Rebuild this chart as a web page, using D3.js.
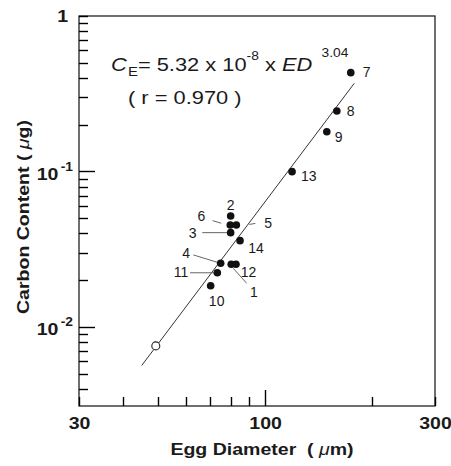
<!DOCTYPE html>
<html>
<head>
<meta charset="utf-8">
<script src="https://cdn.jsdelivr.net/npm/d3@7"></script>
<style>
  body { margin: 0; background: #fff; }
  text { font-family: "Liberation Sans", Arial, Helvetica, sans-serif; fill: #1a1a1a; }
</style>
</head>
<body>
<div class="chart"></div>
<script>
/* data */
const eggIds = [1, 2, 3, 4, 5, 6, 7, 8, 9, 10, 11, 12, 13, 14];
const eggDiameter = [80.3, 80.0, 80.0, 75.0, 83.0, 79.8, 174, 159, 149, 70.3, 73.4, 82.8, 119, 85.0];
const carbonContent = [0.0253, 0.0517, 0.0404, 0.0257, 0.0453, 0.0453, 0.432, 0.245, 0.180, 0.0184, 0.0223, 0.0253, 0.0997, 0.0359];

/* the open circle */
const openDiameter = [49.3];
const openCarbon = [0.00755];

/* fitted curve C = a * ED^b, drawn over this ED range */
const fitA = 5.32e-8;
const fitB = 3.04;
const fitRange = [45, 178];

/* ticks */
const xTicks = [30, 40, 50, 60, 70, 80, 90, 100, 200, 300];
const xLabels = [30, 100, 300];
const yTicks = [1, 0.9, 0.8, 0.7, 0.6, 0.5, 0.4, 0.3, 0.2, 0.1,
  0.09, 0.08, 0.07, 0.06, 0.05, 0.04, 0.03, 0.02, 0.01,
  0.009, 0.008, 0.007, 0.006, 0.005, 0.004];
const yLabels = [1, 0.1, 0.01];

/* label placement: offsets from the point, in pixels */
const labelPos = {
  1: {dx: 18.7, dy: 32.4, anchor: "start", leader: [2, 4, 15.4, 19]},
  2: {dx: 0, dy: -6, anchor: "middle"},
  3: {dx: -34, dy: 5.6, anchor: "end", leader: [-28.4, 0, -2.4, 0]},
  4: {dx: -30.7, dy: -5, anchor: "end", leader: [-27.4, -8.3, -2.4, -0.6]},
  5: {dx: 28, dy: 3, anchor: "start", leader: [13, -0.5, 19, -1.5]},
  6: {dx: -25, dy: -4, anchor: "end", leader: [-17.7, -4.3, -9, -1.7]},
  7: {dx: 12, dy: 4, anchor: "start"},
  8: {dx: 10, dy: 5, anchor: "start"},
  9: {dx: 8, dy: 10, anchor: "start"},
  10: {dx: 6, dy: 20, anchor: "middle"},
  11: {dx: -29, dy: 4.6, anchor: "end", leader: [-27.3, 0, -2.3, 0]},
  12: {dx: 4.7, dy: 12.4, anchor: "start"},
  13: {dx: 9, dy: 9, anchor: "start"},
  14: {dx: 8.3, dy: 12.6, anchor: "start"}
};

/* the lettering in the figure is wide, so text is stretched sideways */
const SX = 1.15;
function widen(sel, sx) {
  sel.each(function () {
    const t = d3.select(this);
    const x = +t.attr("x") || 0;
    t.attr("x", x / sx).attr("transform", `scale(${sx},1)`);
  });
}

const margin = {top: 16, right: 16, bottom: 60, left: 79};
const width = 356;
const height = 390;

const svg = d3.select(".chart").append("svg")
  .attr("width", 451)
  .attr("height", 466);

const g = svg.append("g")
  .attr("transform", `translate(${margin.left},${margin.top})`);

const xScale = d3.scaleLog().domain([30, 300]).range([0, width]);
const yScale = d3.scaleLog().domain([0.0031, 1]).range([height, 0]);

/* frame */
g.append("rect")
  .attr("width", width)
  .attr("height", height)
  .attr("fill", "none")
  .attr("stroke", "#222")
  .attr("stroke-width", 1.3);

/* x axis: labels from the axis, inward ticks drawn from the scale */
const xAxis = d3.axisBottom(xScale)
  .tickValues(xTicks)
  .tickSize(0)
  .tickPadding(11)
  .tickFormat(d => xLabels.includes(d) ? d : "");

const gx = g.append("g")
  .attr("transform", `translate(0,${height})`)
  .call(xAxis)
  .attr("font-size", 17);
gx.select(".domain").remove();
gx.selectAll(".tick line").remove();
gx.selectAll(".tick text").attr("font-weight", "bold");
widen(gx.selectAll(".tick text"), SX);

g.append("g")
  .attr("class", "xticks")
  .selectAll("line")
  .data(xTicks)
  .enter()
  .append("line")
  .attr("x1", d => Math.round(xScale(d)) + 0.5)
  .attr("x2", d => Math.round(xScale(d)) + 0.5)
  .attr("y1", height)
  .attr("y2", d => height - (d === 100 ? 16 : 9))
  .attr("stroke", "#000")
  .attr("stroke-width", 1.4);

/* y axis: labels from the axis, inward ticks drawn from the scale */
const yAxis = d3.axisLeft(yScale)
  .tickValues(yTicks)
  .tickSize(0)
  .tickPadding(11)
  .tickFormat(d => d === 1 ? "1" : (yLabels.includes(d) ? "10" : ""));

const gy = g.append("g")
  .call(yAxis)
  .attr("font-size", 17);
gy.select(".domain").remove();
gy.selectAll(".tick line").remove();
gy.selectAll(".tick text").attr("font-weight", "bold");
gy.selectAll(".tick text")
  .filter(d => d === 0.1 || d === 0.01)
  .attr("x", -6)
  .attr("dy", "0.46em")
  .append("tspan")
  .attr("font-size", 12)
  .attr("dx", 2)
  .attr("dy", -9)
  .text(d => "-" + Math.round(-Math.log10(d)));
widen(gy.selectAll(".tick text"), SX);

g.append("g")
  .attr("class", "yticks")
  .selectAll("line")
  .data(yTicks)
  .enter()
  .append("line")
  .attr("x1", 0)
  .attr("x2", d => (d === 0.1 || d === 0.01) ? 16 : 9)
  .attr("y1", d => Math.round(yScale(d)) + 0.5)
  .attr("y2", d => Math.round(yScale(d)) + 0.5)
  .attr("stroke", "#000")
  .attr("stroke-width", 1.4);

/* fitted line */
const line = d3.line()
  .x(d => xScale(d))
  .y(d => yScale(fitA * Math.pow(d, fitB)));

g.append("path")
  .datum(fitRange)
  .attr("d", line)
  .attr("fill", "none")
  .attr("stroke", "#333")
  .attr("stroke-width", 1);

/* leader lines */
const points = eggIds.map((id, i) => ({id: id, x: eggDiameter[i], y: carbonContent[i]}));

g.selectAll(".leader")
  .data(points.filter(d => labelPos[d.id].leader))
  .enter()
  .append("line")
  .attr("class", "leader")
  .attr("x1", d => xScale(d.x) + labelPos[d.id].leader[0])
  .attr("y1", d => yScale(d.y) + labelPos[d.id].leader[1])
  .attr("x2", d => xScale(d.x) + labelPos[d.id].leader[2])
  .attr("y2", d => yScale(d.y) + labelPos[d.id].leader[3])
  .attr("stroke", "#555")
  .attr("stroke-width", 0.9);

/* points */
g.selectAll(".pt")
  .data(points)
  .enter()
  .append("circle")
  .attr("class", "pt")
  .attr("cx", d => xScale(d.x))
  .attr("cy", d => yScale(d.y))
  .attr("r", 3.8)
  .attr("fill", "#111");

g.selectAll(".open")
  .data(openDiameter)
  .enter()
  .append("circle")
  .attr("class", "open")
  .attr("cx", d => xScale(d))
  .attr("cy", (d, i) => yScale(openCarbon[i]))
  .attr("r", 4)
  .attr("fill", "#fff")
  .attr("stroke", "#222")
  .attr("stroke-width", 1.1);

/* point labels */
g.selectAll(".lbl")
  .data(points)
  .enter()
  .append("text")
  .attr("class", "lbl")
  .attr("x", d => xScale(d.x) + labelPos[d.id].dx)
  .attr("y", d => yScale(d.y) + labelPos[d.id].dy)
  .attr("text-anchor", d => labelPos[d.id].anchor)
  .attr("font-size", 14)
  .text(d => d.id);

/* equation */
const eq = svg.append("text")
  .attr("transform", `translate(111,71) scale(${SX},1)`)
  .attr("font-size", 19)
  .style("white-space", "pre");
eq.append("tspan").attr("font-style", "italic").text("C");
eq.append("tspan").attr("font-size", 13).attr("dx", 1).attr("dy", 5).text("E");
eq.append("tspan").attr("dy", -5).text("= 5.32 x 10");
eq.append("tspan").attr("font-size", 12).attr("dy", -11).text("-8");
eq.append("tspan").attr("dy", 11).text(" x ");
eq.append("tspan").attr("font-style", "italic").text("ED");
eq.append("tspan").attr("font-size", 12).attr("dx", 8).attr("dy", -14).text("3.04");

svg.append("text")
  .attr("transform", `translate(128,104) scale(${SX},1)`)
  .attr("font-size", 19)
  .style("white-space", "pre")
  .text("( r = 0.970 )");

/* axis titles */
const xt = svg.append("text")
  .attr("transform", `translate(262,455) scale(${SX},1)`)
  .attr("text-anchor", "middle")
  .attr("font-size", 17)
  .attr("font-weight", "bold")
  .style("white-space", "pre");
xt.append("tspan").text("Egg Diameter  ( ");
xt.append("tspan").attr("font-style", "italic").attr("font-weight", "normal").text("\u03bc");
xt.append("tspan").text("m)");

const yt = svg.append("text")
  .attr("transform", `translate(29,217) rotate(-90) scale(${SX},1)`)
  .attr("text-anchor", "middle")
  .attr("font-size", 17)
  .attr("font-weight", "bold")
  .style("white-space", "pre");
yt.append("tspan").text("Carbon Content ( ");
yt.append("tspan").attr("font-style", "italic").attr("font-weight", "normal").text("\u03bc");
yt.append("tspan").text("g)");
</script>
</body>
</html>
